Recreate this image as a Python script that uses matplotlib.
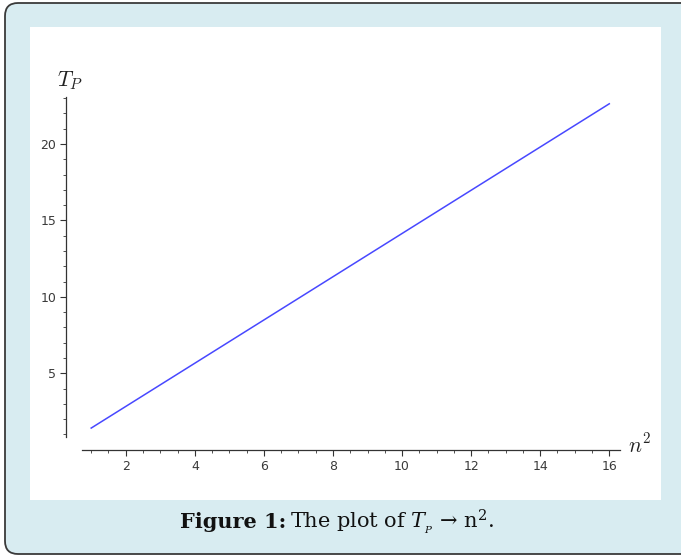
import matplotlib
matplotlib.use('Agg')
import matplotlib.pyplot as plt
from matplotlib.patches import FancyBboxPatch, Rectangle
from matplotlib.transforms import IdentityTransform
from matplotlib.ticker import MultipleLocator

# data (line T_P vs n^2)
n2 = [1, 16]
tp = [1.414, 22.627]
xtick_vals = [2, 4, 6, 8, 10, 12, 14, 16]
ytick_vals = [5, 10, 15, 20]

W, H = 681, 558
fig = plt.figure(figsize=(W / 100, H / 100), dpi=100)
fig.patch.set_facecolor('white')

border = FancyBboxPatch((5, H - 554), 710, 551,
                        boxstyle="round,pad=0,rounding_size=13",
                        fc='#d8ecf1', ec='#3a3a3a', lw=1.3,
                        transform=IdentityTransform(), zorder=-10)
fig.add_artist(border)
panel = Rectangle((30, H - 500), 631, 473, fc='white', ec='none',
                  transform=IdentityTransform(), zorder=-9)
fig.add_artist(panel)

ax = fig.add_axes([81.7 / W, 121 / H, (620 - 81.7) / W, (437 - 97) / H])
ax.set_facecolor('none')
ax.plot(n2, tp, color='#4848ff', lw=1.1)
ax.set_xlim(0.725, 16.31)
ax.set_ylim(0.83, 23.07)

for s in ['top', 'right']:
    ax.spines[s].set_visible(False)
ax.spines['left'].set_position(('outward', 15.5 * 0.72))
ax.spines['bottom'].set_position(('outward', 13 * 0.72))
for s in ['left', 'bottom']:
    ax.spines[s].set_color('#333333')
    ax.spines[s].set_linewidth(0.9)

ax.set_xticks(xtick_vals)
ax.set_yticks(ytick_vals)
ax.xaxis.set_minor_locator(MultipleLocator(0.5))
ax.yaxis.set_minor_locator(MultipleLocator(1))
ax.tick_params(axis='both', which='major', labelsize=9, labelcolor='#3a3a3a',
               color='#333333', direction='out', length=4.5, width=0.8, pad=2.5)
ax.tick_params(axis='both', which='minor', color='#333333', direction='out',
               length=2.4, width=0.6)

fig.text(70 / W, 1 - 81 / H, r'$T_P$', ha='center', va='center', fontsize=15.5,
         math_fontfamily='cm', color='#222222')
fig.text(640 / W, 1 - 445 / H, r'$n^2$', ha='center', va='center', fontsize=15.5,
         math_fontfamily='cm', color='#222222')

# caption
base_y = 1 - 528 / H
t1 = fig.text(180 / W, base_y, 'Figure 1:', fontsize=15, fontweight='bold',
              family='DejaVu Serif', va='baseline', ha='left', color='#111111')
fig.canvas.draw()
r = fig.canvas.get_renderer()
bb = t1.get_window_extent(r)
fig.text((bb.x1 + 4) / W, base_y,
         'The plot of $T_{_P}$ \u2192 n$^{2}$.',
         fontsize=15, family='DejaVu Serif', va='baseline', ha='left',
         math_fontfamily='dejavuserif', color='#111111')

fig.savefig('out.png', dpi=100)
